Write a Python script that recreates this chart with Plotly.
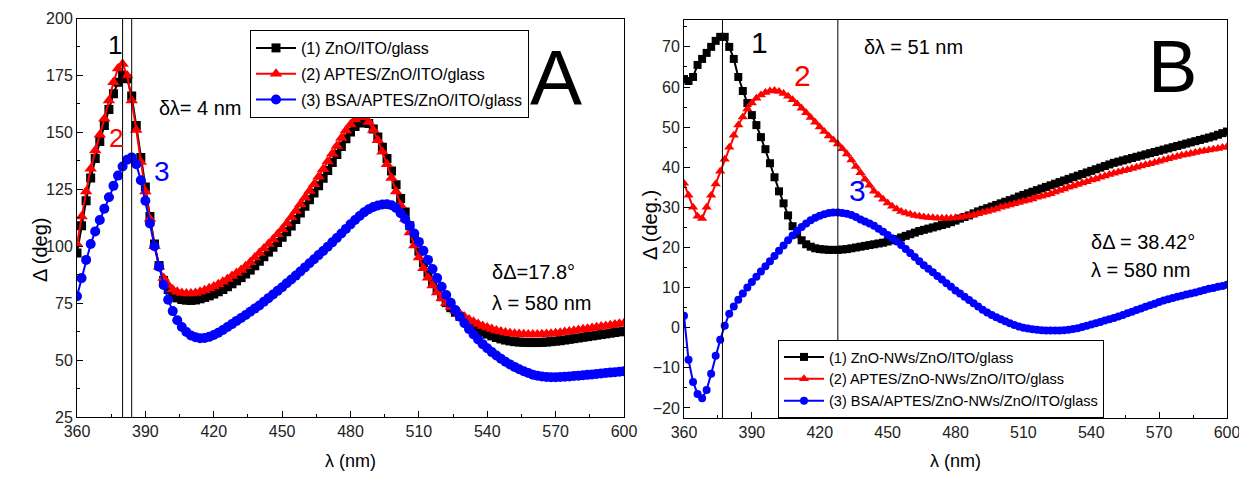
import plotly.graph_objects as go

# ---------------- data ----------------
wavelength = list(range(360, 601, 2))  # nm, sampling grid

# Panel A
a_zno = [97, 109, 120, 130, 138.5, 146, 153, 160, 167, 172,
         175, 173.5, 166, 153, 139, 126, 113, 101, 91.5, 85,
         81, 78.5, 77.3, 76.6, 76.3, 76.2, 76.4, 76.9, 77.5, 78.2,
         79, 80, 81, 82.2, 83.5, 84.8, 86.2, 87.8, 89.5, 91.4,
         93.4, 95.4, 97.4, 99.5, 101.6, 103.9, 106.3, 108.9, 111.7, 114.6,
         117.5, 120.4, 123.4, 126.6, 129.9, 133.3, 136.8, 140.3, 143.8, 147.2,
         150.2, 152.6, 154.1, 154.6, 153.9, 151.5, 148, 143.5, 138.5, 133,
         127, 121, 115, 109, 103.2, 97.8, 92.8, 88.3, 84.3, 80.8,
         77.8, 75.2, 73, 71, 69.2, 67.5, 66, 64.6, 63.4, 62.3,
         61.4, 60.6, 59.9, 59.3, 58.8, 58.4, 58.1, 57.9, 57.8, 57.7,
         57.7, 57.7, 57.8, 57.9, 58.1, 58.3, 58.5, 58.8, 59.1, 59.4,
         59.7, 60, 60.3, 60.6, 60.9, 61.2, 61.5, 61.8, 62.1, 62.4,
         62.7]
a_aptes = [101, 113, 124, 134, 142, 149, 156, 164, 172, 178,
           180, 175, 164, 151, 137, 124, 112, 100, 91, 86,
           83, 81, 80, 79.5, 79.2, 79.2, 79.5, 80, 80.7, 81.5,
           82.3, 83.3, 84.4, 85.6, 86.9, 88.2, 89.6, 91.2, 93, 95,
           97, 99, 101, 103, 105.2, 107.5, 110, 112.7, 115.5, 118.4,
           121.3, 124.2, 127.2, 130.5, 133.8, 137.2, 140.6, 144, 147.5, 150.8,
           153.5, 155.6, 156.8, 156.6, 154.6, 151, 146.5, 141.5, 136, 130,
           124, 118, 112, 106, 100.3, 95, 90.3, 86.2, 82.7, 79.7,
           77.2, 75.1, 73.3, 71.7, 70.3, 69, 67.8, 66.8, 65.8, 65,
           64.3, 63.6, 63, 62.5, 62.1, 61.8, 61.6, 61.4, 61.3, 61.2,
           61.2, 61.2, 61.3, 61.4, 61.6, 61.8, 62, 62.3, 62.6, 62.9,
           63.2, 63.5, 63.8, 64.1, 64.4, 64.7, 65, 65.3, 65.6, 65.9,
           66.2]
a_bsa = [78, 86, 94, 101, 106.5, 111.5, 116.5, 121.5, 126.5, 131,
         135, 138, 139, 136, 129, 120, 110, 100, 91, 83,
         76.5, 71.5, 67.5, 64.5, 62.3, 60.8, 60, 59.6, 59.7, 60.2,
         61, 62, 63.2, 64.5, 65.8, 67.2, 68.5, 69.8, 71.2, 72.6,
         74, 75.6, 77.2, 78.8, 80.4, 82, 83.7, 85.4, 87.1, 88.9,
         90.7, 92.5, 94.3, 96.1, 97.9, 99.8, 101.7, 103.6, 105.6, 107.6,
         109.6, 111.5, 113.3, 114.9, 116.2, 117.2, 117.9, 118.3, 118.4, 118,
         116.8, 114.5, 112, 109, 105.6, 101.9, 98, 94, 90, 86,
         82.2, 78.6, 75.2, 72, 69, 66.2, 63.6, 61.2, 59, 57,
         55.2, 53.5, 52, 50.6, 49.3, 48.1, 47, 46, 45.1, 44.3,
         43.6, 43.1, 42.8, 42.6, 42.5, 42.5, 42.6, 42.7, 42.8, 43,
         43.1, 43.3, 43.5, 43.7, 43.9, 44.1, 44.3, 44.5, 44.7, 44.9,
         45.1]

# Panel B
b_nws = [62, 61.5, 62.5, 65.5, 67, 68.5, 70, 71.5, 72.5, 72.5,
         70, 67, 62.5, 59, 56, 53, 50.5, 47.5, 44.5, 41,
         37.5, 34, 31, 28, 25.3, 23.3, 21.8, 20.8, 20.2, 19.8,
         19.6, 19.5, 19.4, 19.4, 19.4, 19.5, 19.6, 19.8, 20, 20.2,
         20.4, 20.6, 20.8, 21, 21.2, 21.5, 21.8, 22.1, 22.5, 22.9,
         23.3, 23.7, 24.1, 24.4, 24.7, 25, 25.3, 25.6, 25.9, 26.3,
         26.7, 27.2, 27.6, 28, 28.5, 29, 29.4, 29.8, 30.2, 30.6,
         31, 31.4, 31.8, 32.2, 32.7, 33.1, 33.5, 33.9, 34.3, 34.7,
         35.1, 35.5, 35.9, 36.3, 36.7, 37.1, 37.5, 37.9, 38.3, 38.7,
         39.1, 39.5, 39.9, 40.3, 40.7, 41.1, 41.4, 41.7, 42, 42.3,
         42.6, 42.9, 43.2, 43.5, 43.8, 44.1, 44.4, 44.7, 45, 45.3,
         45.6, 45.9, 46.2, 46.5, 46.8, 47.1, 47.4, 47.7, 48.1, 48.5,
         48.9]
b_aptes = [36, 33, 30, 27.8, 27.2, 30, 33, 35.8, 39, 42,
           45, 48, 50.5, 52.5, 54.5, 56, 57.2, 58, 58.6, 59,
           59.1, 58.9, 58.4, 57.7, 56.8, 55.8, 54.7, 53.6, 52.4, 51.2,
           50, 48.9, 47.8, 46.8, 45.8, 44.6, 43.3, 41.8, 40.2, 38.6,
           37, 35.5, 34, 33, 32, 31.1, 30.3, 29.6, 29, 28.6,
           28.3, 28, 27.8, 27.6, 27.5, 27.4, 27.3, 27.3, 27.3, 27.3,
           27.4, 27.5, 27.7, 27.9, 28.1, 28.4, 28.7, 29, 29.3, 29.6,
           30, 30.3, 30.6, 30.9, 31.2, 31.5, 31.8, 32.1, 32.5, 32.8,
           33.1, 33.4, 33.8, 34.2, 34.6, 35, 35.3, 35.7, 36.1, 36.4,
           36.8, 37.1, 37.5, 37.8, 38.2, 38.5, 38.8, 39.1, 39.4, 39.7,
           40, 40.3, 40.6, 40.9, 41.2, 41.5, 41.8, 42.1, 42.4, 42.7,
           43, 43.2, 43.4, 43.7, 43.9, 44.1, 44.3, 44.5, 44.7, 44.9,
           45.1]
b_bsa = [3, -8, -13.5, -16.5, -17.6, -15.5, -11.5, -7, -3, 0.5,
         3.5, 5.3, 7, 8.5, 10, 11.4, 12.7, 14, 15.3, 16.6,
         17.9, 19.2, 20.5, 21.8, 23, 24.1, 25.1, 26, 26.8, 27.4,
         27.9, 28.3, 28.6, 28.7, 28.7, 28.6, 28.4, 28.1, 27.6, 27,
         26.5, 26, 25.4, 24.7, 23.9, 23.1, 22.3, 21.5, 20.6, 19.6,
         18.6, 17.6, 16.6, 15.6, 14.7, 13.8, 12.9, 12, 11.1, 10.2,
         9.3, 8.5, 7.7, 6.9, 6.1, 5.3, 4.5, 3.8, 3.2, 2.6,
         2.1, 1.6, 1.1, 0.7, 0.3, 0, -0.2, -0.4, -0.5, -0.6,
         -0.7, -0.7, -0.7, -0.7, -0.6, -0.5, -0.3, -0.1, 0.2, 0.5,
         0.8, 1.1, 1.4, 1.8, 2.1, 2.4, 2.8, 3.2, 3.6, 4,
         4.4, 4.8, 5.2, 5.6, 6, 6.4, 6.8, 7.1, 7.4, 7.7,
         8, 8.3, 8.5, 8.8, 9.1, 9.4, 9.7, 9.9, 10.2, 10.4,
         10.7]

names_a = ["(1) ZnO/ITO/glass", "(2) APTES/ZnO/ITO/glass",
           "(3) BSA/APTES/ZnO/ITO/glass"]
names_b = ["(1) ZnO-NWs/ZnO/ITO/glass", "(2) APTES/ZnO-NWs/ZnO/ITO/glass",
           "(3) BSA/APTES/ZnO-NWs/ZnO/ITO/glass"]
x_ticks = [360, 390, 420, 450, 480, 510, 540, 570, 600]
y_ticks_a = [25, 50, 75, 100, 125, 150, 175, 200]
y_ticks_b = [-20, -10, 0, 10, 20, 30, 40, 50, 60, 70]
peak_lines_a = [380, 384]
peak_lines_b = [377, 428]

colors = ["#000000", "#ff0000", "#0000ff"]
symbols = ["square", "triangle-up", "circle"]
FONT = "Arial, 'Liberation Sans', sans-serif"

# page geometry: the browser keeps an 8 px body margin, so the figure is
# 1231 x 466 and placed at (8, 8) on the 1247 x 482 page.
W, H, OFF = 1231, 466, 8


def px(x):
    return (x - OFF) / W


def py(y):
    return (H + OFF - y) / H


fig = go.Figure()

sizes_a = [9, 11, 10]
for ys, nm, c, s, ms in zip([a_zno, a_aptes, a_bsa], names_a, colors, symbols, sizes_a):
    fig.add_trace(go.Scatter(x=wavelength, y=ys, name=nm, mode="lines+markers",
                             line=dict(color=c, width=2),
                             marker=dict(symbol=s, size=ms, color=c),
                             xaxis="x", yaxis="y", legend="legend",
                             legendgroup=nm))
sizes_b = [8, 9, 8]
for ys, nm, c, s, ms in zip([b_nws, b_aptes, b_bsa], names_b, colors, symbols, sizes_b):
    fig.add_trace(go.Scatter(x=wavelength, y=ys, name=nm, mode="lines+markers",
                             line=dict(color=c, width=2),
                             marker=dict(symbol=s, size=ms, color=c),
                             xaxis="x2", yaxis="y2", legend="legend2",
                             legendgroup=nm))

axis_common = dict(showline=True, linecolor="black", linewidth=1, mirror=True,
                   ticks="inside", ticklen=6, tickwidth=1, tickcolor="black",
                   showgrid=False, zeroline=False, automargin=False,
                   ticklabeloverflow="allow",
                   tickfont=dict(family=FONT, size=16, color="#222"))
minor_common = dict(ticks="inside", ticklen=3, tickcolor="black", showgrid=False)

fig.update_layout(
    width=W, height=H,
    margin=dict(l=0, r=0, t=0, b=0, pad=0),
    paper_bgcolor="white", plot_bgcolor="white",
    font=dict(family=FONT, color="black"),
    xaxis=dict(domain=[px(77), px(624)], range=[360, 600], tickvals=x_ticks,
               anchor="y", minor=dict(dtick=15, **minor_common), **axis_common),
    yaxis=dict(domain=[py(417), py(18.5)], range=[25, 200], tickvals=y_ticks_a,
               anchor="x", minor=dict(dtick=12.5, tick0=25, **minor_common), **axis_common),
    xaxis2=dict(domain=[px(684), px(1227)], range=[360, 600], tickvals=x_ticks,
                anchor="y2", minor=dict(dtick=15, **minor_common), **axis_common),
    yaxis2=dict(domain=[py(418), py(20)], range=[-22.5, 76.7], tickvals=y_ticks_b,
                anchor="x2", minor=dict(dtick=5, tick0=0, **minor_common), **axis_common),
    legend=dict(x=px(250), y=py(30), xanchor="left", yanchor="top",
                bgcolor="white", bordercolor="black", borderwidth=1,
                font=dict(family=FONT, size=16), tracegroupgap=2,
                itemwidth=40),
    legend2=dict(x=px(778), y=py(340), xanchor="left", yanchor="top",
                 bgcolor="white", bordercolor="black", borderwidth=1,
                 font=dict(family=FONT, size=14.5), tracegroupgap=0,
                 itemwidth=40),
    showlegend=True,
)

for xv in peak_lines_a:
    fig.add_shape(type="line", xref="x", yref="y domain", x0=xv, x1=xv, y0=0, y1=1,
                  line=dict(color="black", width=1))
for xv in peak_lines_b:
    fig.add_shape(type="line", xref="x2", yref="y2 domain", x0=xv, x1=xv, y0=0, y1=1,
                  line=dict(color="black", width=1))


def ann(text, x, y, xr, yr, size, color="black", xanchor="center", angle=0):
    fig.add_annotation(text=text, x=x, y=y, xref=xr, yref=yr, showarrow=False,
                       xanchor=xanchor, yanchor="middle", textangle=angle,
                       font=dict(family=FONT, size=size, color=color))


# Panel A annotations
ann("1", 376.7, 188.4, "x", "y", 26)
ann("2", 377.1, 147.5, "x", "y", 26, "#ff0000")
ann("3", 397.3, 132.6, "x", "y", 28, "#0000ff")
ann("δλ= 4 nm", 395.1, 160.7, "x", "y", 20, xanchor="left")
ann("A", 570.2, 173.9, "x", "y", 78)
ann("δΔ=17.8°", 541.2, 88.7, "x", "y", 20, xanchor="left")
ann("λ = 580 nm", 541.2, 75.0, "x", "y", 20, xanchor="left")

# Panel B annotations
ann("1", 393.5, 71.2, "x2", "y2", 30)
ann("2", 412.5, 62.8, "x2", "y2", 30, "#ff0000")
ann("3", 436.8, 34.3, "x2", "y2", 30, "#0000ff")
ann("δλ = 51 nm", 438.5, 70.0, "x2", "y2", 20, xanchor="left")
ann("B", 575.7, 65.0, "x2", "y2", 74)
ann("δΔ = 38.42°", 539.1, 21.4, "x2", "y2", 20, xanchor="left")
ann("λ = 580 nm", 539.1, 14.4, "x2", "y2", 20, xanchor="left")

# Axis titles
ann("Δ (deg)", px(40), py(250), "paper", "paper", 20, angle=-90)
ann("Δ (deg.)", px(650), py(225), "paper", "paper", 20, angle=-90)
ann("λ (nm)", px(350), py(461), "paper", "paper", 18)
ann("λ (nm)", px(955), py(461), "paper", "paper", 18)

fig.write_html("out.html", config={"displayModeBar": False})
